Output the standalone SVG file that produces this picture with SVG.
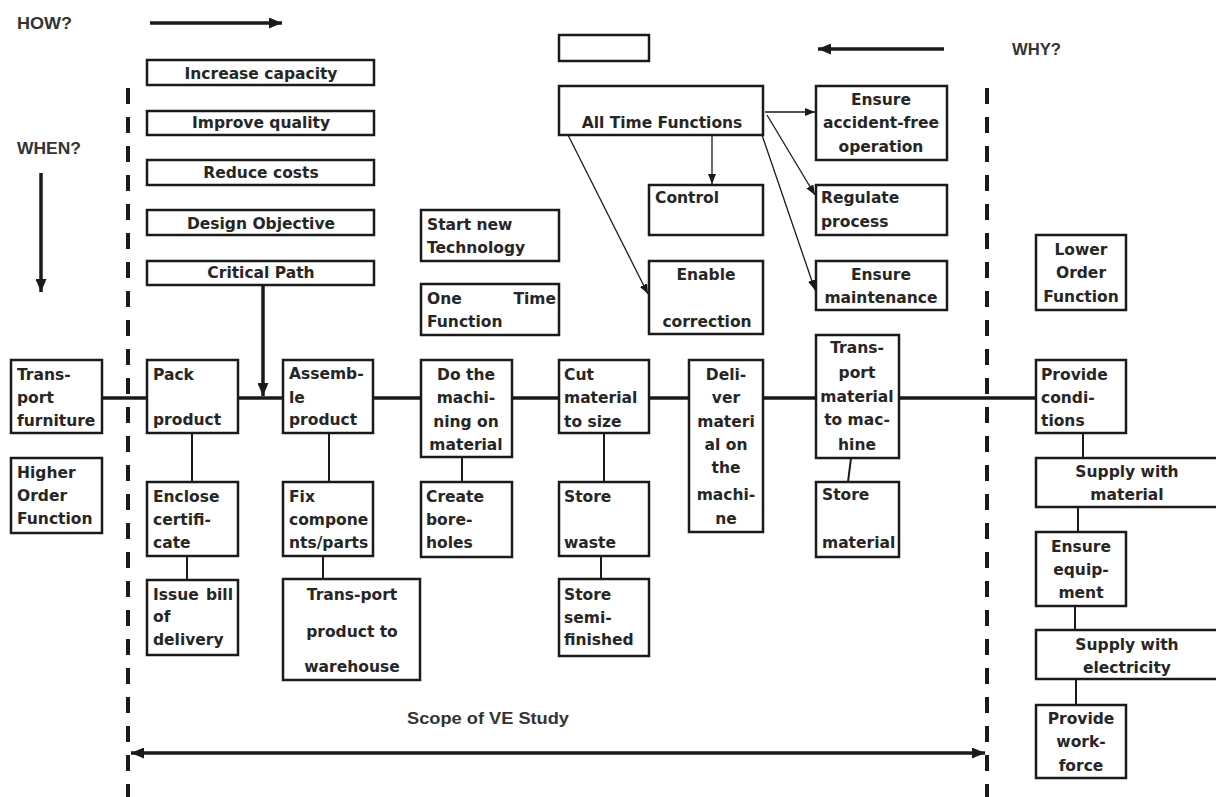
<svg xmlns="http://www.w3.org/2000/svg" width="1216" height="797" viewBox="0 0 1216 797">
<style>
.box{fill:#fff;stroke:#1a1a1a;stroke-width:2.5}
.t{font-family:"DejaVu Sans","Liberation Sans",sans-serif;font-weight:bold;font-size:15.5px;fill:#262626}
.c{text-anchor:middle}
.e{text-anchor:end}
.main{stroke:#1a1a1a;stroke-width:3.5;fill:none}
.link{stroke:#1a1a1a;stroke-width:2;fill:none}
.thin{stroke:#1a1a1a;stroke-width:1.3;fill:none;marker-end:url(#ah)}
.thick{stroke:#1a1a1a;stroke-width:3.5;fill:none;marker-end:url(#bh)}
.dash{stroke:#1a1a1a;stroke-width:4;stroke-dasharray:16 13;fill:none}
.lbl{font-family:"Liberation Sans",Arial,sans-serif;font-weight:bold;font-size:17px;fill:#333}
</style>
<defs>
<marker id="ah" markerUnits="userSpaceOnUse" markerWidth="10" markerHeight="8" refX="10" refY="4" orient="auto"><path d="M0,0 L10,4 L0,8 z" fill="#1a1a1a"/></marker>
<marker id="bh" markerUnits="userSpaceOnUse" markerWidth="13" markerHeight="11" refX="13" refY="5.5" orient="auto-start-reverse"><path d="M0,0 L13,5.5 L0,11 z" fill="#1a1a1a"/></marker>
</defs>

<g id="guides">
<line class="dash" x1="128" y1="88" x2="128" y2="797"/>
<line class="dash" x1="987" y1="88" x2="987" y2="797"/>
<text class="lbl" x="17" y="29" textLength="55" lengthAdjust="spacingAndGlyphs">HOW?</text>
<text class="lbl" x="17" y="154" textLength="64" lengthAdjust="spacingAndGlyphs">WHEN?</text>
<text class="lbl" x="1012" y="55" textLength="49" lengthAdjust="spacingAndGlyphs">WHY?</text>
<text class="lbl" x="407" y="724" textLength="162" lengthAdjust="spacingAndGlyphs">Scope of VE Study</text>
</g>

<g id="connectors">
<line class="thick" x1="150" y1="23" x2="282" y2="23"/>
<line class="thick" x1="944" y1="49" x2="818" y2="49"/>
<line class="thick" x1="41" y1="173" x2="41" y2="292"/>
<line class="thick" x1="263" y1="285" x2="263" y2="396"/>
<line class="thick" x1="131" y1="753" x2="985" y2="753" style="marker-start:url(#bh)"/>
<line class="main" x1="102" y1="398" x2="1036" y2="398"/>
<line class="thin" x1="765" y1="112" x2="815" y2="112"/>
<line class="thin" x1="712" y1="135" x2="712" y2="184"/>
<line class="thin" x1="767" y1="115" x2="815" y2="195"/>
<line class="thin" x1="762" y1="135" x2="815" y2="290"/>
<line class="thin" x1="568" y1="135" x2="648" y2="294"/>
<line class="link" x1="192" y1="433" x2="192" y2="482"/>
<line class="link" x1="187" y1="556" x2="187" y2="580"/>
<line class="link" x1="329" y1="433" x2="329" y2="482"/>
<line class="link" x1="323" y1="556" x2="323" y2="579"/>
<line class="link" x1="462" y1="457" x2="462" y2="482"/>
<line class="link" x1="604" y1="433" x2="604" y2="482"/>
<line class="link" x1="601" y1="556" x2="601" y2="579"/>
<line class="link" x1="851" y1="458" x2="848" y2="482"/>
<line class="link" x1="1083" y1="433" x2="1083" y2="458"/>
<line class="link" x1="1078" y1="507" x2="1078" y2="532"/>
<line class="link" x1="1075" y1="606" x2="1075" y2="630"/>
<line class="link" x1="1076" y1="679" x2="1076" y2="705"/>
</g>

<g id="n-increase"><rect class="box" x="147" y="60" width="227" height="25"/><text class="t c" x="261" y="79">Increase capacity</text></g>
<g id="n-quality"><rect class="box" x="147" y="111" width="227" height="24"/><text class="t c" x="261" y="128">Improve quality</text></g>
<g id="n-costs"><rect class="box" x="147" y="160" width="227" height="25"/><text class="t c" x="261" y="178">Reduce costs</text></g>
<g id="n-design"><rect class="box" x="147" y="210" width="227" height="25"/><text class="t c" x="261" y="229">Design Objective</text></g>
<g id="n-critical"><rect class="box" x="147" y="261" width="227" height="24"/><text class="t c" x="261" y="278">Critical Path</text></g>

<g id="n-empty"><rect class="box" x="559" y="35" width="90" height="26"/></g>
<g id="n-alltime"><rect class="box" x="559" y="86" width="204" height="49"/><text class="t c" x="662" y="128">All Time Functions</text></g>
<g id="n-control"><rect class="box" x="649" y="185" width="114" height="50"/><text class="t" x="655" y="203">Control</text></g>
<g id="n-enable"><rect class="box" x="649" y="261" width="114" height="73"/><text class="t c" x="706" y="280">Enable</text><text class="t c" x="707" y="327">correction</text></g>
<g id="n-accident"><rect class="box" x="816" y="86" width="131" height="74"/><text class="t c" x="881" y="105">Ensure</text><text class="t c" x="881" y="128">accident-free</text><text class="t c" x="881" y="152">operation</text></g>
<g id="n-regulate"><rect class="box" x="816" y="185" width="131" height="50"/><text class="t" x="821" y="203">Regulate</text><text class="t" x="821" y="227">process</text></g>
<g id="n-maint"><rect class="box" x="816" y="261" width="131" height="49"/><text class="t c" x="881" y="280">Ensure</text><text class="t c" x="881" y="303">maintenance</text></g>
<g id="n-lower"><rect class="box" x="1036" y="235" width="90" height="75"/><text class="t c" x="1081" y="255">Lower</text><text class="t c" x="1081" y="278">Order</text><text class="t c" x="1081" y="302">Function</text></g>

<g id="n-startnew"><rect class="box" x="421" y="210" width="138" height="51"/><text class="t" x="427" y="230">Start new</text><text class="t" x="427" y="253">Technology</text></g>
<g id="n-onetime"><rect class="box" x="421" y="284" width="138" height="51"/><text class="t"><tspan x="427" y="304">One</tspan><tspan x="556" y="304" text-anchor="end">Time</tspan></text><text class="t" x="427" y="327">Function</text></g>

<g id="n-transfurn"><rect class="box" x="11" y="360" width="91" height="73"/><text class="t" x="17" y="380">Trans-</text><text class="t" x="17" y="403">port</text><text class="t" x="17" y="426">furniture</text></g>
<g id="n-higher"><rect class="box" x="11" y="458" width="91" height="75"/><text class="t" x="17" y="478">Higher</text><text class="t" x="17" y="501">Order</text><text class="t" x="17" y="524">Function</text></g>
<g id="n-pack"><rect class="box" x="147" y="360" width="91" height="73"/><text class="t" x="153" y="380">Pack</text><text class="t" x="153" y="425">product</text></g>
<g id="n-assemble"><rect class="box" x="283" y="360" width="90" height="73"/><text class="t" x="289" y="379">Assemb-</text><text class="t" x="289" y="403">le</text><text class="t" x="289" y="425">product</text></g>
<g id="n-machining"><rect class="box" x="421" y="360" width="91" height="97"/><text class="t c" x="466" y="380">Do the</text><text class="t c" x="466" y="403">machi-</text><text class="t c" x="466" y="427">ning on</text><text class="t c" x="466" y="450">material</text></g>
<g id="n-cut"><rect class="box" x="559" y="360" width="90" height="73"/><text class="t" x="564" y="380">Cut</text><text class="t" x="564" y="403">material</text><text class="t" x="564" y="427">to size</text></g>
<g id="n-deliver"><rect class="box" x="689" y="360" width="74" height="172"/><text class="t c" x="726" y="380">Deli-</text><text class="t c" x="726" y="403">ver</text><text class="t c" x="726" y="427">materi</text><text class="t c" x="726" y="450">al on</text><text class="t c" x="726" y="473">the</text><text class="t c" x="726" y="500">machi-</text><text class="t c" x="726" y="524">ne</text></g>
<g id="n-transmat"><rect class="box" x="816" y="335" width="83" height="123"/><text class="t c" x="857" y="353">Trans-</text><text class="t c" x="857" y="378">port</text><text class="t c" x="857" y="402">material</text><text class="t c" x="857" y="425">to mac-</text><text class="t c" x="857" y="450">hine</text></g>
<g id="n-provcond"><rect class="box" x="1036" y="360" width="90" height="73"/><text class="t" x="1041" y="380">Provide</text><text class="t" x="1041" y="403">condi-</text><text class="t" x="1041" y="426">tions</text></g>

<g id="n-enclose"><rect class="box" x="147" y="482" width="91" height="74"/><text class="t" x="153" y="502">Enclose</text><text class="t" x="153" y="525">certifi-</text><text class="t" x="153" y="548">cate</text></g>
<g id="n-issue"><rect class="box" x="147" y="580" width="91" height="75"/><text class="t"><tspan x="153" y="600">Issue</tspan><tspan x="233" y="600" text-anchor="end">bill</tspan></text><text class="t" x="153" y="622">of</text><text class="t" x="153" y="645">delivery</text></g>
<g id="n-fix"><rect class="box" x="283" y="482" width="90" height="74"/><text class="t" x="289" y="502">Fix</text><text class="t" x="289" y="525">compone</text><text class="t" x="289" y="548">nts/parts</text></g>
<g id="n-transprod"><rect class="box" x="283" y="579" width="137" height="101"/><text class="t c" x="352" y="600">Trans-port</text><text class="t c" x="352" y="637">product to</text><text class="t c" x="352" y="672">warehouse</text></g>
<g id="n-create"><rect class="box" x="421" y="482" width="91" height="75"/><text class="t" x="426" y="502">Create</text><text class="t" x="426" y="525">bore-</text><text class="t" x="426" y="548">holes</text></g>
<g id="n-storewaste"><rect class="box" x="559" y="482" width="90" height="74"/><text class="t" x="564" y="502">Store</text><text class="t" x="564" y="548">waste</text></g>
<g id="n-storesemi"><rect class="box" x="559" y="579" width="90" height="77"/><text class="t" x="564" y="600">Store</text><text class="t" x="564" y="623">semi-</text><text class="t" x="564" y="645">finished</text></g>
<g id="n-storemat"><rect class="box" x="816" y="482" width="83" height="75"/><text class="t" x="822" y="500">Store</text><text class="t" x="822" y="548">material</text></g>
<g id="n-supplymat"><rect class="box" x="1036" y="458" width="182" height="49"/><text class="t c" x="1127" y="477">Supply with</text><text class="t c" x="1127" y="500">material</text></g>
<g id="n-equip"><rect class="box" x="1036" y="532" width="90" height="74"/><text class="t c" x="1081" y="552">Ensure</text><text class="t c" x="1081" y="575">equip-</text><text class="t c" x="1081" y="598">ment</text></g>
<g id="n-supplyel"><rect class="box" x="1036" y="630" width="182" height="49"/><text class="t c" x="1127" y="650">Supply with</text><text class="t c" x="1127" y="673">electricity</text></g>
<g id="n-workforce"><rect class="box" x="1036" y="705" width="90" height="73"/><text class="t c" x="1081" y="724">Provide</text><text class="t c" x="1081" y="747">work-</text><text class="t c" x="1081" y="771">force</text></g>
</svg>
